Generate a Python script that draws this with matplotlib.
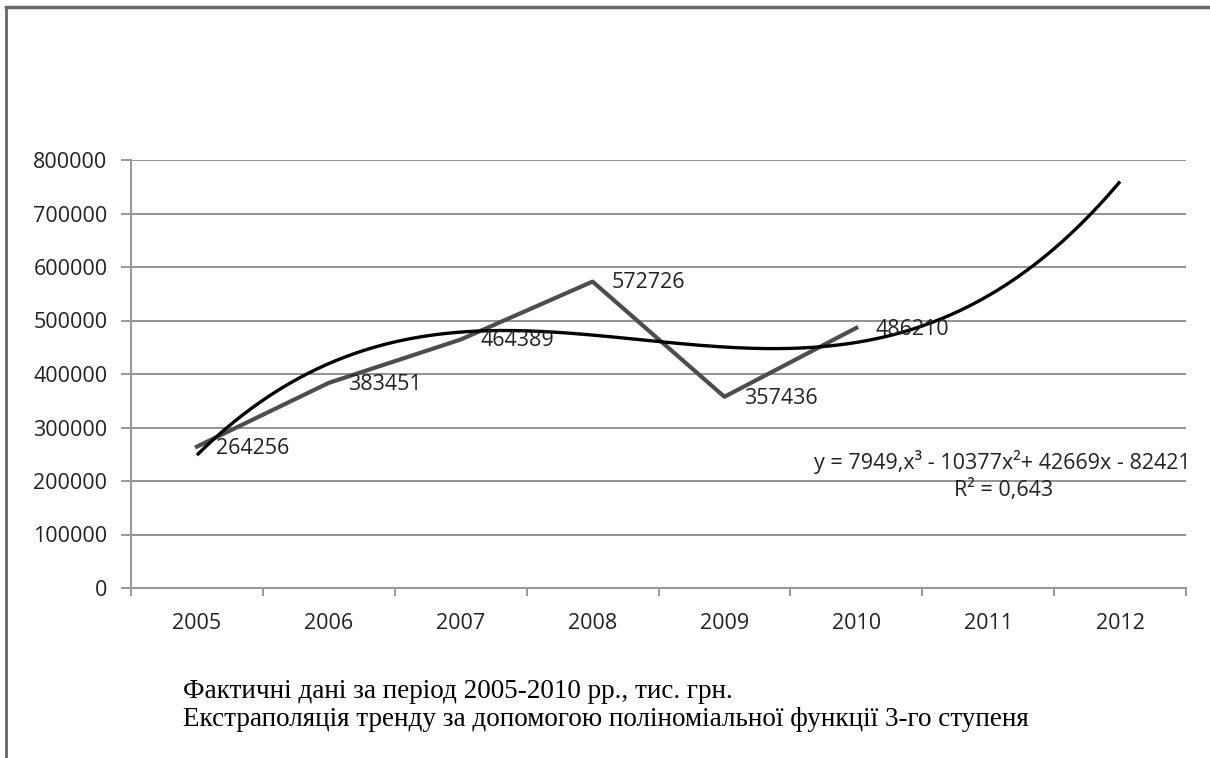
import numpy as np
import matplotlib.pyplot as plt
from matplotlib.lines import Line2D

# Фактичні дані
years = ['2005', '2006', '2007', '2008', '2009', '2010', '2011', '2012']
values = [264256, 383451, 464389, 572726, 357436, 486210]
y_ticks = [0, 100000, 200000, 300000, 400000, 500000, 600000, 700000, 800000]

eq_text = 'y = 7949,x³ - 10377x²+ 42669x - 82421'
r2_text = 'R² = 0,643'
caption1 = 'Фактичні дані за період 2005-2010 рр., тис. грн.'
caption2 = 'Екстраполяція тренду за допомогою поліноміальної функції 3-го ступеня'

plt.rcParams['font.family'] = ['Open Sans', 'DejaVu Sans']
fs = 15.5

fig = plt.figure(figsize=(12.1, 7.58), dpi=100)
ax = fig.add_axes([131/1210, 1-588/758, (1186-131)/1210, (588-160)/758])

x = np.arange(1, len(values)+1)
# поліноміальний тренд 3-го ступеня (як в Excel), прогноз на 2 періоди вперед
coef = np.polyfit(x, values, 3)
xt = np.linspace(1, len(years), 300)
ax.plot(xt, np.polyval(coef, xt), color='black', lw=2.4, zorder=4, solid_capstyle='butt')
ax.plot(x, values, color='#4d4d4d', lw=3, zorder=3)

for xi, v in zip(x, values):
    ax.annotate(str(v), (xi, v), xytext=(14, -1), textcoords='offset points',
                ha='left', va='center', fontsize=fs, color='#222222', zorder=5)

ax.set_xlim(0.5, len(years)+0.5)
ax.set_ylim(0, 800000)
ax.set_yticks(y_ticks)
ax.set_yticklabels([str(t) for t in y_ticks], fontsize=fs, color='#222222')
ax.set_xticks(np.arange(1, len(years)+1))
ax.set_xticklabels(years, fontsize=fs, color='#222222')
ax.set_xticks(np.arange(0.5, len(years)+1), minor=True)
ax.tick_params(axis='x', which='major', length=0, pad=18)
ax.tick_params(axis='x', which='minor', length=6, color='#888888', width=1.2)
ax.tick_params(axis='y', length=7, color='#888888', width=1.2, pad=10)
ax.grid(axis='y', color='#808080', lw=1.2)
ax.set_axisbelow(True)
for s in ['top', 'right']:
    ax.spines[s].set_visible(False)
for s in ['left', 'bottom']:
    ax.spines[s].set_color('#999999')
    ax.spines[s].set_linewidth(1.5)

fig.text(1002/1210, 1-462/758, eq_text, ha='center', va='center',
         fontsize=fs, color='#222222')
fig.text(1004/1210, 1-490/758, r2_text, ha='center', va='center',
         fontsize=fs, color='#222222')

fig.text(183/1210, 1-692/758, caption1, fontsize=19.5, family='Liberation Serif',
         va='center', ha='left')
fig.text(183/1210, 1-719/758, caption2, fontsize=19.5, family='Liberation Serif',
         va='center', ha='left')

# рамка
fig.add_artist(Line2D([6/1210, 6/1210], [0, 1-7/758], color='#666666', lw=2))
fig.add_artist(Line2D([6/1210, 1], [1-7/758, 1-7/758], color='#666666', lw=2.5))

fig.savefig('out.png', dpi=100)
